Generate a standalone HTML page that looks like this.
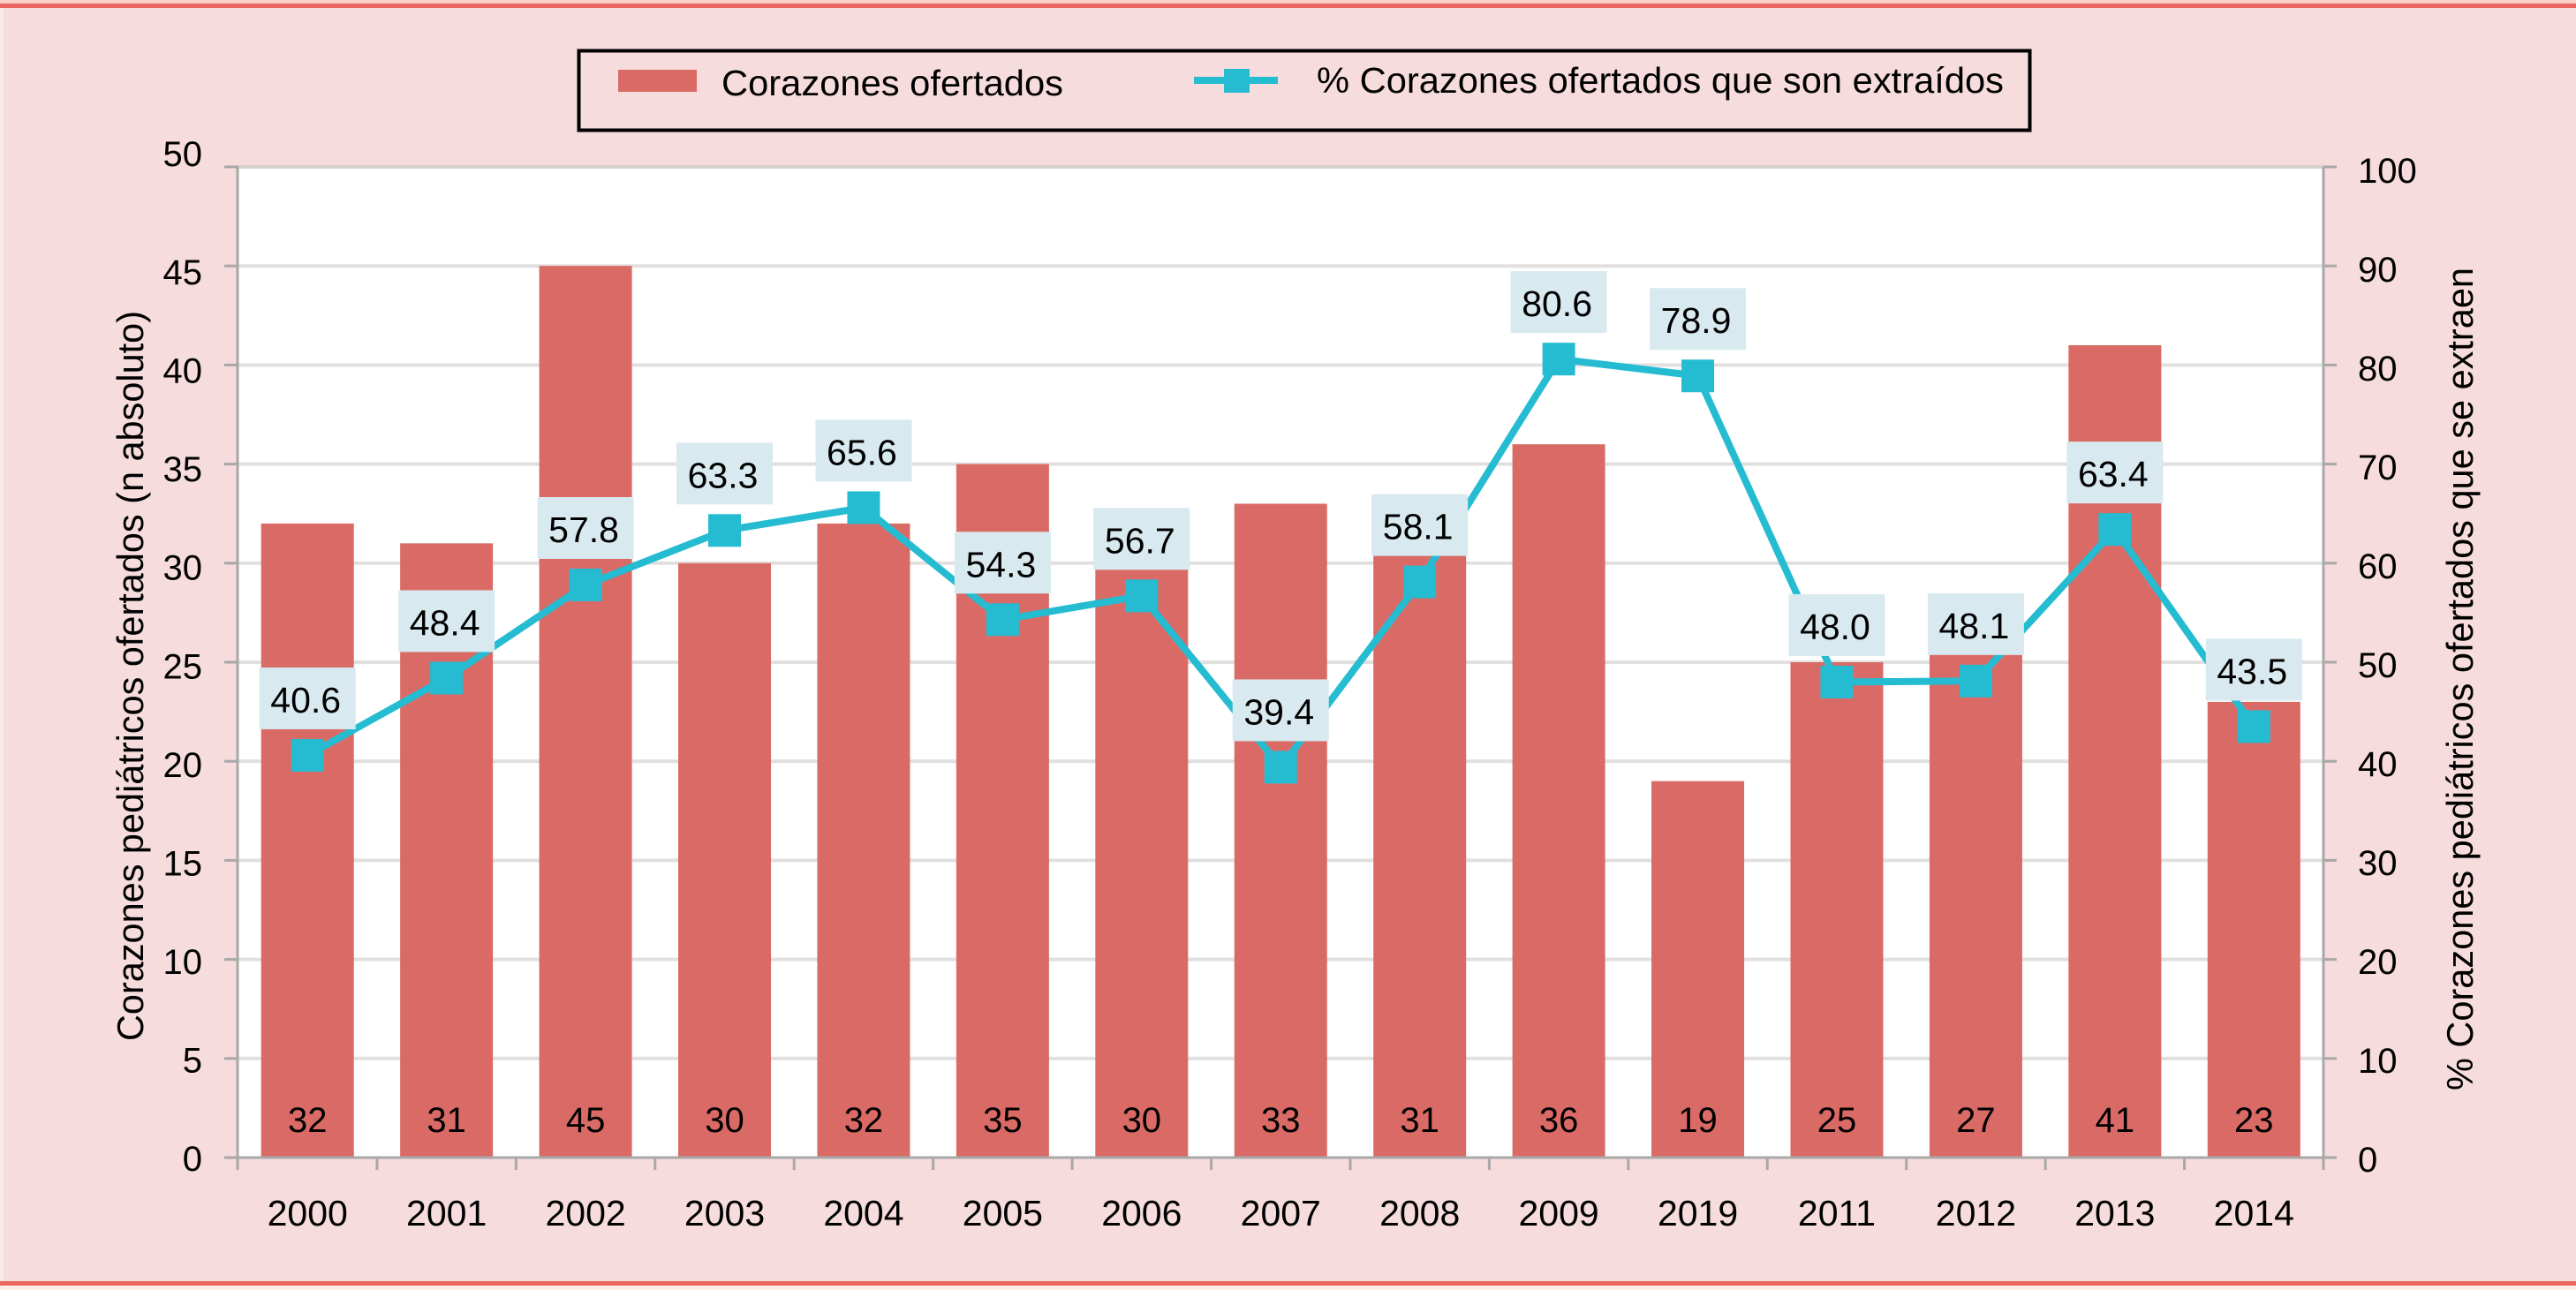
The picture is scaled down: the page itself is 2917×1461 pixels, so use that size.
<!DOCTYPE html>
<html lang="es">
<head>
<meta charset="utf-8">
<title>Corazones pediátricos ofertados</title>
<style>
html,body{margin:0;padding:0;background:#f6dcdc;}
svg{display:block;}
text{font-family:"Liberation Sans",sans-serif;fill:#000;}
</style>
</head>
<body>
<svg id="chart" xmlns="http://www.w3.org/2000/svg" width="2917" height="1461" viewBox="0 0 2917 1461">
  <rect x="0" y="0" width="2917" height="1461" fill="#f6dcdc"/>
  <rect x="0" y="0" width="4" height="1461" fill="#fbe8e8"/>
  <rect x="0" y="0" width="2917" height="4" fill="#f9cfca"/>
  <rect x="0" y="4" width="2917" height="5" fill="#e9675e"/>
  <rect x="0" y="1451" width="2917" height="5" fill="#e9675e"/>
  <rect x="0" y="1456" width="2917" height="5" fill="#fdeee8"/>

  <rect x="269" y="189" width="2362" height="1122" fill="#ffffff"/>
  <g id="grid"></g>
  <g id="bars"></g>
  <g id="axes"></g>
  <g id="line"></g>
  <g id="boxes"></g>
  <g id="markers"></g>
  <g id="barLabels"></g>

  <text transform="translate(162 1179) rotate(-90)" font-size="42" textLength="827" lengthAdjust="spacingAndGlyphs">Corazones pediátricos ofertados (n absoluto)</text>
  <text transform="translate(2800 1235) rotate(-90)" font-size="42" textLength="932" lengthAdjust="spacingAndGlyphs">% Corazones pediátricos ofertados que se extraen</text>

  <g>
    <rect x="655.5" y="57.5" width="1643" height="90" fill="none" stroke="#000" stroke-width="4"/>
    <rect x="700" y="79" width="89" height="25" fill="#da6a65"/>
    <text x="817" y="108" font-size="41" textLength="387" lengthAdjust="spacingAndGlyphs">Corazones ofertados</text>
    <rect x="1352" y="87" width="95" height="8" fill="#25bcd2"/>
    <rect x="1386" y="78" width="29" height="27" fill="#25bcd2"/>
    <text x="1491" y="105" font-size="41" textLength="778" lengthAdjust="spacingAndGlyphs">% Corazones ofertados que son extraídos</text>
  </g>
</svg>

<script>
const years = ["2000","2001","2002","2003","2004","2005","2006","2007","2008","2009","2019","2011","2012","2013","2014"];
const offered = [32,31,45,30,32,35,30,33,31,36,19,25,27,41,23];
const extractedPct = [40.6,48.4,57.8,63.3,65.6,54.3,56.7,39.4,58.1,80.6,78.9,48.0,48.1,63.4,43.5];
const pctLabels = ["40.6","48.4","57.8","63.3","65.6","54.3","56.7","39.4","58.1","80.6","78.9","48.0","48.1","63.4","43.5"];
const leftTicks = [0,5,10,15,20,25,30,35,40,45,50];
const rightTicks = [0,10,20,30,40,50,60,70,80,90,100];

const NS = "http://www.w3.org/2000/svg";
const plotLeft = 269.5, plotRight = 2631, plotTop = 189, plotBottom = 1311;
const band = (plotRight - plotLeft) / years.length;
const leftMax = 50, rightMax = 100;
const barW = 105, boxW = 109, boxH = 70, markerSize = 37;
const BAR = "#da6a65", LINE = "#25bcd2", BOX = "#d8e9ef", AXIS = "#a9a8a8", GRID = "#e2dfdf";

function xCenter(i){ return plotLeft + band * (i + 0.5); }
function xEdge(i){ return plotLeft + band * i; }
function yLeft(v){ return plotBottom - (v / leftMax) * (plotBottom - plotTop); }
function yRight(v){ return plotBottom - (v / rightMax) * (plotBottom - plotTop); }
function make(tag, attrs, parent, txt){
  const el = document.createElementNS(NS, tag);
  for (const k in attrs) el.setAttribute(k, attrs[k]);
  if (txt !== undefined) el.textContent = txt;
  document.getElementById(parent).appendChild(el);
  return el;
}

leftTicks.forEach(function(v){
  const y = yLeft(v);
  if (v > 0) {
    const g = make("rect", {x:plotLeft, y:y-2, width:plotRight-plotLeft, height:4, fill:v===leftMax ? "#d8cfcf" : GRID}, "grid");
    
    
  }
  const t = make("rect", {x:254, y:y-1.5, width:16, height:3, fill:AXIS}, "axes");
  
  
  const labelY = v === leftMax ? y - 1 : y + 15 + v * 0.13;
  const l = make("text", {x:229, y:labelY, "text-anchor":"end", "font-size":40}, "axes", String(v));
  
  
});

rightTicks.forEach(function(v){
  const y = yRight(v);
  const t = make("rect", {x:2631, y:y-1.5, width:15, height:3, fill:AXIS}, "axes");
  
  
  const l = make("text", {x:2670, y:y+16+v*0.02, "font-size":40}, "axes", String(v));
  
  
});

const leftAxis = make("rect", {x:plotLeft-2, y:plotTop, width:3, height:plotBottom-plotTop+14, fill:AXIS}, "axes");


const rightAxis = make("rect", {x:plotRight-1.5, y:plotTop, width:3, height:plotBottom-plotTop+14, fill:AXIS}, "axes");


const baseAxis = make("rect", {x:plotLeft, y:plotBottom-1.5, width:plotRight-plotLeft, height:3, fill:AXIS}, "axes");



years.forEach(function(year, i){
  if (i > 0) {
    const t = make("rect", {x:xEdge(i)-1.5, y:plotBottom, width:3, height:14, fill:AXIS}, "axes");
    
    
  }
  const l = make("text", {x:xCenter(i), y:1388, "text-anchor":"middle", "font-size":41}, "axes", year);
  
  
});

offered.forEach(function(v, i){
  const top = yLeft(v);
  const b = make("rect", {x:xCenter(i)-barW/2, y:top, width:barW, height:plotBottom-top-1, fill:BAR}, "bars");
  
  
  const l = make("text", {x:xCenter(i), y:1282, "text-anchor":"middle", "font-size":40}, "barLabels", String(v));
  
  
});

const pts = extractedPct.map(function(v, i){ return xCenter(i).toFixed(1) + "," + yRight(v).toFixed(1); }).join(" ");
const poly = make("polyline", {points:pts, fill:"none", stroke:LINE, "stroke-width":8, "stroke-linejoin":"round"}, "line");



extractedPct.forEach(function(v, i){
  const x = xCenter(i), y = yRight(v), cy = y - 64.5;
  const box = make("rect", {x:x-boxW/2, y:cy-boxH/2, width:boxW, height:boxH, fill:BOX}, "boxes");
  
  
  const l = make("text", {x:x-2, y:cy+16, "text-anchor":"middle", "font-size":41}, "boxes", pctLabels[i]);
  
  
  const m = make("rect", {x:x-markerSize/2, y:y-markerSize/2, width:markerSize, height:markerSize, fill:LINE}, "markers");
  
  
});
</script>
</body>
</html>
